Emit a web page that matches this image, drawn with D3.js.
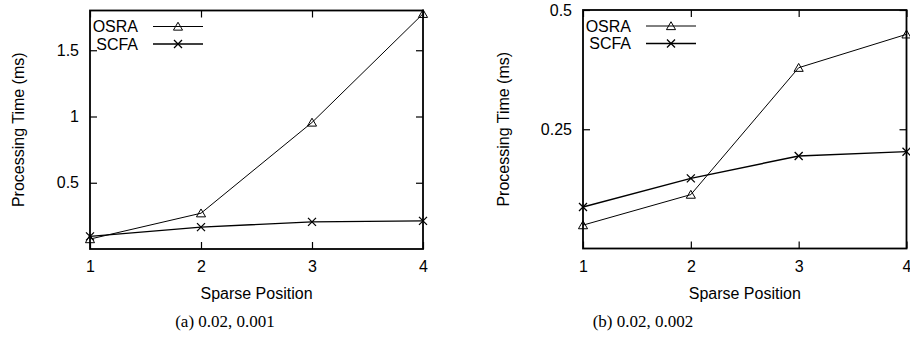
<!DOCTYPE html>
<html>
<head>
<meta charset="utf-8">
<script src="https://cdn.jsdelivr.net/npm/d3@7"></script>
<style>
  body { margin: 0; background: #fff; }
  svg { display: block; }
  .axis text { font-family: "Liberation Sans", Arial, sans-serif; font-size: 16px; fill: #000; }
</style>
</head>
<body>
<svg id="chart" width="910" height="349"></svg>
<script>
const positions = [1, 2, 3, 4];
const seriesNames = ["OSRA", "SCFA"];

// panel (a)
const osraA = [0.075, 0.27, 0.955, 1.775];
const scfaA = [0.095, 0.165, 0.205, 0.212];
const yTicksA = [0.5, 1, 1.5];

// panel (b)
const osraB = [0.049, 0.113, 0.379, 0.449];
const scfaB = [0.087, 0.147, 0.194, 0.203];
const yTicksB = [0.25, 0.5];

const captions = ["(a) 0.02, 0.001", "(b) 0.02, 0.002"];

const svg = d3.select("#chart");
const font = '"Liberation Sans", Arial, sans-serif';

const panels = [
    {left: 90, right: 423, top: 10.5, bottom: 249, yMax: 1.8, yTicks: yTicksA,
     series: [osraA, scfaA], ylabelX: 18, caption: captions[0], capX: 225},
    {left: 583, right: 906.5, top: 10, bottom: 248.5, yMax: 0.5, yTicks: yTicksB,
     series: [osraB, scfaB], ylabelX: 503, caption: captions[1], capX: 643}
];

const triangle = d3.symbol().type(d3.symbolTriangle).size(36);

function drawMarker(g, kind, cx, cy) {
    if (kind === 0) {
        g.append("path")
            .attr("d", triangle())
            .attr("transform", `translate(${cx},${cy + 1})`)
            .attr("fill", "none")
            .attr("stroke", "#000")
            .attr("stroke-width", 1);
    } else {
        const s = 4;
        g.append("path")
            .attr("d", `M${cx - s},${cy - s}L${cx + s},${cy + s}M${cx - s},${cy + s}L${cx + s},${cy - s}`)
            .attr("fill", "none")
            .attr("stroke", "#000")
            .attr("stroke-width", 1.3);
    }
}

panels.forEach(p => {
    const x = d3.scaleLinear().domain([1, 4]).range([p.left, p.right]);
    const y = d3.scaleLinear().domain([0, p.yMax]).range([p.bottom, p.top]);
    const g = svg.append("g");

    // axes with inward ticks, mirrored on top/right
    g.append("g").attr("class", "axis")
        .attr("transform", `translate(0,${p.bottom})`)
        .call(d3.axisBottom(x).tickValues(positions).tickFormat(d3.format("d")).tickSize(-7).tickPadding(12))
        .call(a => a.select(".domain").remove());
    g.append("g").attr("class", "axis")
        .attr("transform", `translate(0,${p.top})`)
        .call(d3.axisTop(x).tickValues(positions).tickFormat("").tickSize(-7))
        .call(a => a.select(".domain").remove());
    g.append("g").attr("class", "axis")
        .attr("transform", `translate(${p.left},0)`)
        .call(d3.axisLeft(y).tickValues(p.yTicks).tickFormat(d => String(d)).tickSize(-7).tickPadding(11))
        .call(a => a.select(".domain").remove());
    g.append("g").attr("class", "axis")
        .attr("transform", `translate(${p.right},0)`)
        .call(d3.axisRight(y).tickValues(p.yTicks).tickFormat("").tickSize(-7))
        .call(a => a.select(".domain").remove());
    g.selectAll(".axis line").attr("stroke", "#000").attr("stroke-width", 1.2);

    // frame
    g.append("rect")
        .attr("x", p.left).attr("y", p.top)
        .attr("width", p.right - p.left).attr("height", p.bottom - p.top)
        .attr("fill", "none").attr("stroke", "#000").attr("stroke-width", 1.8);

    // lines + markers
    const line = d3.line().x((d, i) => x(positions[i])).y(d => y(d));
    p.series.forEach((vals, k) => {
        g.append("path")
            .datum(vals)
            .attr("fill", "none")
            .attr("stroke", "#000")
            .attr("stroke-width", k === 0 ? 1 : 1.4)
            .attr("d", line);
        vals.forEach((v, i) => drawMarker(g, k, x(positions[i]), y(v)));
    });

    // legend
    seriesNames.forEach((name, k) => {
        const ly = p.top + 16 + k * 17.5;
        g.append("text")
            .attr("x", p.left + 48).attr("y", ly).attr("dy", "0.36em")
            .attr("text-anchor", "end")
            .style("font-family", font).style("font-size", "16px")
            .text(name);
        g.append("line")
            .attr("x1", p.left + 63).attr("x2", p.left + 113)
            .attr("y1", ly).attr("y2", ly)
            .attr("stroke", "#000").attr("stroke-width", k === 0 ? 1 : 1.4);
        drawMarker(g, k, p.left + 88, ly);
    });

    // axis titles
    g.append("text")
        .attr("x", (p.left + p.right) / 2).attr("y", 293).attr("dy", "0.36em")
        .attr("text-anchor", "middle")
        .style("font-family", font).style("font-size", "16px")
        .text("Sparse Position");
    g.append("text")
        .attr("transform", `translate(${p.ylabelX},${(p.top + p.bottom) / 2}) rotate(-90)`)
        .attr("dy", "0.36em")
        .attr("text-anchor", "middle")
        .style("font-family", font).style("font-size", "16px")
        .text("Processing Time (ms)");

    // caption
    g.append("text")
        .attr("x", p.capX).attr("y", 321).attr("dy", "0.35em")
        .attr("text-anchor", "middle")
        .style("font-family", '"Liberation Serif", "Times New Roman", serif').style("font-size", "17px")
        .text(p.caption);
});
</script>
</body>
</html>
